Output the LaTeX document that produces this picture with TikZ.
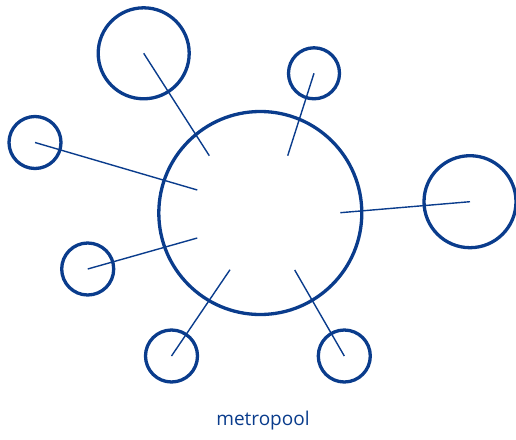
\documentclass[tikz,border=0pt]{standalone}
\usepackage{fontspec}
\setmainfont{Open Sans}
\usepackage{tikz}
\definecolor{metroblue}{RGB}{10,60,140}

\begin{document}
\begin{tikzpicture}[x=1pt,y=-1pt,
    hub/.style={circle,draw=metroblue,line width=3.3pt,minimum size=203pt,inner sep=0pt},
    town/.style={circle,draw=metroblue,line width=3.3pt,inner sep=0pt},
    link/.style={draw=metroblue,line width=1.4pt}]

\useasboundingbox (0,0) rectangle (516,439);

% central city
\node[hub] (c) at (260.3,213) {};

% surrounding towns
\node[town,minimum size=91pt] (t1) at (143.7,53.3) {};
\node[town,minimum size=51pt] (t2) at (314,73.3) {};
\node[town,minimum size=52pt] (t3) at (35,142.5) {};
\node[town,minimum size=92pt] (t4) at (470,201.7) {};
\node[town,minimum size=52pt] (t5) at (87.7,269) {};
\node[town,minimum size=52pt] (t6) at (171.5,356) {};
\node[town,minimum size=52pt] (t7) at (344.3,356) {};

% inner ends of the links
\coordinate (e1) at (209.3,155.7);
\coordinate (e2) at (287.7,155.7);
\coordinate (e3) at (197.3,190);
\coordinate (e4) at (340.3,212.7);
\coordinate (e5) at (197.3,238);
\coordinate (e6) at (230,269.7);
\coordinate (e7) at (294.7,270);

% links
\draw[link] (t1.center) -- (e1);
\draw[link] (t2.center) -- (e2);
\draw[link] (t3.center) -- (e3);
\draw[link] (t4.center) -- (e4);
\draw[link] (t5.center) -- (e5);
\draw[link] (t6.center) -- (e6);
\draw[link] (t7.center) -- (e7);

\node[anchor=base,text=metroblue,font=\fontsize{19}{22}\selectfont,inner sep=0pt] (lbl) at (263,425.5) {metropool};

\end{tikzpicture}
\end{document}
